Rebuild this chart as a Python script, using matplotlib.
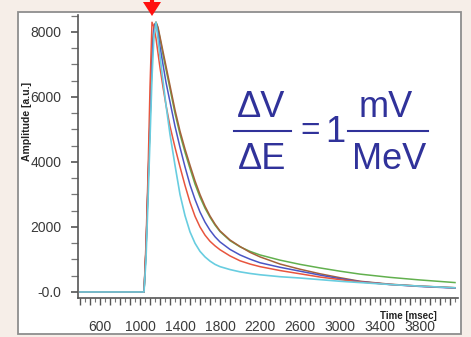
import matplotlib
matplotlib.use('Agg')
import matplotlib.pyplot as plt
from matplotlib.patches import Rectangle, Polygon
from matplotlib.lines import Line2D
from matplotlib.ticker import MultipleLocator, FuncFormatter

# pulse shapes, time in msec
time_ms = [400, 1040, 1060, 1080, 1100, 1120, 1140, 1160, 1180, 1200, 1230, 1260,
           1300, 1350, 1400, 1450, 1500, 1550, 1600, 1650, 1700, 1750, 1800, 1900,
           2000, 2100, 2200, 2400, 2600, 2800, 3000, 3200, 3500, 3800, 4150]
amp_red = [0, 0, 1500, 3600, 6300, 8300, 8150, 7800, 7350, 6900, 6300, 5750,
           5100, 4450, 3850, 3280, 2760, 2330, 2000, 1750, 1560, 1420, 1300, 1110,
           960, 860, 780, 660, 560, 460, 380, 310, 230, 180, 130]
amp_blue = [0, 0, 1300, 3300, 5300, 7200, 8200, 8250, 7950, 7550, 7000, 6450,
            5850, 5100, 4450, 3850, 3300, 2850, 2460, 2150, 1900, 1700, 1540, 1310,
            1140, 1010, 900, 760, 640, 520, 410, 320, 230, 170, 120]
amp_green = [0, 0, 1300, 3200, 5200, 7100, 8100, 8300, 8100, 7800, 7300, 6850,
             6250, 5500, 4850, 4300, 3800, 3320, 2920, 2580, 2300, 2060, 1860, 1580,
             1390, 1250, 1140, 980, 850, 740, 640, 550, 450, 370, 290]
amp_brown = [0, 0, 1300, 3300, 5300, 7200, 8200, 8300, 8150, 7850, 7400, 6950,
             6350, 5600, 4950, 4400, 3900, 3420, 3000, 2640, 2340, 2090, 1880, 1600,
             1400, 1220, 1080, 860, 700, 560, 440, 330, 240, 180, 130]
amp_cyan = [0, 0, 1000, 2800, 4700, 6600, 7900, 8300, 7800, 7250, 6500, 5750,
            4850, 3900, 3000, 2350, 1850, 1500, 1250, 1080, 950, 850, 780, 690,
            620, 570, 530, 470, 430, 380, 330, 290, 230, 180, 130]

y_ticks = [0, 2000, 4000, 6000, 8000]
y_labels = ['-0.0', '2000', '4000', '6000', '8000']
x_labelled = [600, 1000, 1400, 1800, 2200, 2600, 3000, 3400, 3800]

W, H = 471, 337


def fx(x):
    return x / W


def fy(y):
    return 1 - y / H


plt.rcParams['font.family'] = ['Liberation Sans', 'DejaVu Sans']

fig = plt.figure(figsize=(W / 100, H / 100), dpi=100)
fig.patch.set_facecolor('#f6eee8')

# white panel of the screenshot
fig.add_artist(Rectangle((fx(18), fy(334)), fx(461) - fx(18), fy(12) - fy(334),
                         transform=fig.transFigure, facecolor='white',
                         edgecolor='#8e8e8e', linewidth=1.3, zorder=0))

ax = fig.add_axes([fx(78), fy(298), (458 - 78) / W, (298 - 15) / H])
ax.set_facecolor('white')

ax.plot(time_ms, amp_green, color='#62b04e', lw=1.1)
ax.plot(time_ms, amp_brown, color='#a4623a', lw=1.1)
ax.plot(time_ms, amp_blue, color='#4a55c4', lw=1.1)
ax.plot(time_ms, amp_red, color='#e8553e', lw=1.1)
ax.plot(time_ms, amp_cyan, color='#68cde0', lw=1.2)

ax.set_xlim(380, 4180)
ax.set_ylim(-185, 8523)

for s in ['top', 'right']:
    ax.spines[s].set_visible(False)
for s in ['left', 'bottom']:
    ax.spines[s].set_color('#555555')
    ax.spines[s].set_linewidth(1.2)

ax.set_yticks(y_ticks)
ax.set_yticklabels(y_labels)
ax.yaxis.set_minor_locator(MultipleLocator(500))
ax.tick_params(axis='y', which='major', length=5, width=1.2, pad=7,
               color='#555555', labelcolor='#3a3a3a', labelsize=10)
ax.tick_params(axis='y', which='minor', length=5, width=0.9, color='#777777')

ax.xaxis.set_major_locator(MultipleLocator(100))
ax.xaxis.set_minor_locator(MultipleLocator(50))
ax.xaxis.set_major_formatter(FuncFormatter(
    lambda v, p: str(int(round(v))) if int(round(v)) in x_labelled else ''))
ax.tick_params(axis='x', which='major', length=5, width=1.0, pad=11,
               color='#555555', labelcolor='#3a3a3a', labelsize=10)
ax.tick_params(axis='x', which='minor', length=3, width=0.8, color='#777777')

fig.text(fx(408), fy(316), 'Time [msec]', fontsize=7, fontweight='bold',
         ha='center', va='center', color='#222222')
fig.text(fx(27), fy(121), 'Amplitude [a.u.]', fontsize=7.5, fontweight='bold',
         rotation=90, ha='center', va='center', color='#222222')

# equation dV/dE = 1 mV/MeV
eq_col = '#30329a'
fig.text(fx(261), fy(117), '\u0394V', fontsize=26, color=eq_col, ha='center', va='baseline')
fig.text(fx(262), fy(169), '\u0394E', fontsize=26, color=eq_col, ha='center', va='baseline')
fig.add_artist(Line2D([fx(234), fx(291)], [fy(131), fy(131)], color=eq_col, lw=1.5))
fig.text(fx(310), fy(131), '=', fontsize=24, color=eq_col, ha='center', va='center')
fig.text(fx(335), fy(142), '1', fontsize=26, color=eq_col, ha='center', va='baseline')
fig.text(fx(386), fy(117), 'mV', fontsize=26, color=eq_col, ha='center', va='baseline')
fig.text(fx(389), fy(169), 'MeV', fontsize=26, color=eq_col, ha='center', va='baseline')
fig.add_artist(Line2D([fx(348), fx(428)], [fy(131), fy(131)], color=eq_col, lw=1.5))

# red marker arrow at the top
fig.add_artist(Polygon([(fx(143), fy(2)), (fx(161), fy(2)), (fx(152), fy(16))],
                       closed=True, transform=fig.transFigure,
                       facecolor='#ff1010', edgecolor='none'))
fig.add_artist(Line2D([fx(152), fx(152)], [fy(0), fy(3)], color='#ff1010', lw=3))

fig.savefig('out.png', dpi=100, facecolor=fig.get_facecolor())
